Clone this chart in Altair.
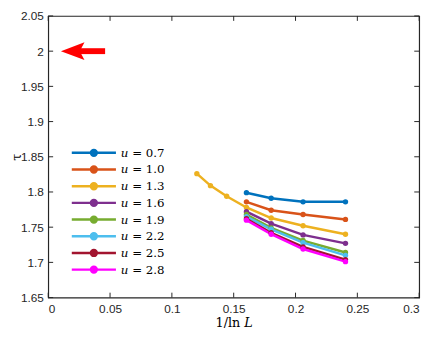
import altair as alt
import pandas as pd

# 1/ln L values
x_main = [0.1603, 0.1803, 0.2061, 0.2404]
x_extra = [0.1202, 0.1312, 0.1443]

labels = ["𝑢 = 0.7", "𝑢 = 1.0", "𝑢 = 1.3", "𝑢 = 1.6", "𝑢 = 1.9", "𝑢 = 2.2", "𝑢 = 2.5", "𝑢 = 2.8"]
colors = ["#0072BD", "#D95319", "#EDB120", "#7E2F8E", "#77AC30", "#4DBEEE", "#A2142F", "#FF00FF"]

tau_07 = [1.799, 1.791, 1.786, 1.786]
tau_10 = [1.786, 1.774, 1.768, 1.761]
tau_13_extra = [1.826, 1.809, 1.794]
tau_13 = [1.778, 1.763, 1.752, 1.740]
tau_16 = [1.772, 1.755, 1.739, 1.727]
tau_19 = [1.768, 1.749, 1.731, 1.714]
tau_22 = [1.765, 1.747, 1.728, 1.710]
tau_25 = [1.762, 1.742, 1.722, 1.704]
tau_28 = [1.760, 1.740, 1.719, 1.701]

x_ticks = [0, 0.05, 0.1, 0.15, 0.2, 0.25, 0.3]
y_ticks = [1.65, 1.7, 1.75, 1.8, 1.85, 1.9, 1.95, 2.0, 2.05]

arrow_y = [2.0]
arrow_head_x = [0.0198]
arrow_shaft = [0.024, 0.046]

rows = []
series = [tau_07, tau_10, tau_13, tau_16, tau_19, tau_22, tau_25, tau_28]
for i, (lab, vals) in enumerate(zip(labels, series)):
    xs = list(x_main)
    ys = list(vals)
    if i == 2:
        xs = x_extra + xs
        ys = tau_13_extra + ys
    for order, (xv, yv) in enumerate(zip(xs, ys)):
        rows.append({"x": xv, "tau": yv, "u": lab, "o": order})
df = pd.DataFrame(rows)

W, H = 378, 287
xsc = alt.Scale(domain=[0, 0.3], nice=False, zero=False)
ysc = alt.Scale(domain=[1.65, 2.05], nice=False, zero=False)

color = alt.Color("u:N", scale=alt.Scale(domain=labels, range=colors),
                  sort=labels,
                  legend=alt.Legend(title=None, orient="none", legendX=40, legendY=133,
                                    symbolType="M-4.5,0H4.5M-0.6,0A0.6,0.6,0,1,1,0.6,0A0.6,0.6,0,1,1,-0.6,0Z",
                                    symbolSize=100, symbolStrokeWidth=2.5,
                                    labelFont="DejaVu Serif", labelFontSize=12,
                                    rowPadding=0, labelOffset=21, padding=0))

xaxis = alt.Axis(values=x_ticks, ticks=False, labelFont="Liberation Sans", labelFontSize=12,
                 labelColor="#262626", title="1/ln 𝐿", titleFont="DejaVu Serif", titleFontSize=13,
                 titleFontWeight="normal", titleColor="#000", labelPadding=6, titlePadding=2,
                 domain=False, grid=False, labelOverlap=False,
                 labelExpr="datum.value == 0 ? '0' : format(datum.value, '.2~f')")
yaxis = alt.Axis(values=y_ticks, ticks=False, labelFont="Liberation Sans", labelFontSize=12,
                 labelColor="#262626", title="τ", titleFont="DejaVu Serif", titleFontSize=13,
                 titleFontWeight="normal", titleColor="#000", labelPadding=5, titleX=-25,
                 domain=False, grid=False, labelOverlap=False,
                 labelExpr="format(datum.value, '.2~f')")

base = alt.Chart(df)
lines = base.mark_line(strokeWidth=2.5).encode(
    x=alt.X("x:Q", scale=xsc, axis=xaxis),
    y=alt.Y("tau:Q", scale=ysc, axis=yaxis),
    color=color, order="o:Q", detail="u:N")
pts = base.mark_point(filled=True, size=30, opacity=1, shape="circle").encode(
    x=alt.X("x:Q", scale=xsc, axis=xaxis), y=alt.Y("tau:Q", scale=ysc, axis=yaxis), color=color)

xt = pd.DataFrame({"v": x_ticks})
yt = pd.DataFrame({"v": y_ticks})
tb = alt.Chart(xt).mark_rule(color="#262626", strokeWidth=1).encode(
    x=alt.X("v:Q", scale=xsc, axis=xaxis), y=alt.value(H), y2=alt.value(H - 5))
tt = alt.Chart(xt).mark_rule(color="#262626", strokeWidth=1).encode(
    x=alt.X("v:Q", scale=xsc, axis=xaxis), y=alt.value(0), y2=alt.value(5))
tl = alt.Chart(yt).mark_rule(color="#262626", strokeWidth=1).encode(
    y=alt.Y("v:Q", scale=ysc, axis=yaxis), x=alt.value(0), x2=alt.value(5))
tr = alt.Chart(yt).mark_rule(color="#262626", strokeWidth=1).encode(
    y=alt.Y("v:Q", scale=ysc, axis=yaxis), x=alt.value(W), x2=alt.value(W - 5))

shaft = alt.Chart(pd.DataFrame({"x": [arrow_shaft[0]], "x2": [arrow_shaft[1]], "y": arrow_y})).mark_rule(
    color="#FF0000", strokeWidth=6).encode(x=alt.X("x:Q", scale=xsc, axis=xaxis), x2="x2:Q",
                                           y=alt.Y("y:Q", scale=ysc, axis=yaxis))
head = alt.Chart(pd.DataFrame({"x": arrow_head_x, "y": arrow_y})).mark_point(
    shape="M-1,0L1,-0.75L0.6,0L1,0.75Z", size=576, filled=True, color="#FF0000", opacity=1).encode(
    x=alt.X("x:Q", scale=xsc, axis=xaxis), y=alt.Y("y:Q", scale=ysc, axis=yaxis))

chart = alt.layer(lines, pts, shaft, head, tb, tt, tl, tr).properties(
    width=W, height=H, autosize=alt.AutoSizeParams(type="none"),
    padding={"left": 41, "top": 5, "right": 9, "bottom": 34}
).configure_view(stroke="#262626", strokeWidth=1.2).configure_axis(labelFontWeight="normal")

chart.save("out.html", embed_options={"renderer": "svg", "actions": False})
